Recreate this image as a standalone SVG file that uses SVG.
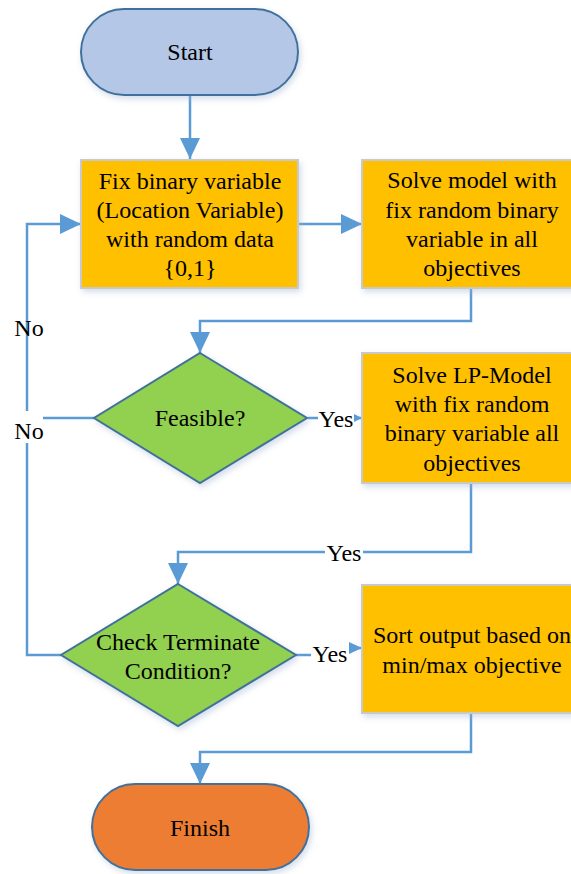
<svg xmlns="http://www.w3.org/2000/svg" width="571" height="874" viewBox="0 0 571 874">
<style>
.t{font-size:24px;fill:#000;text-anchor:middle}
.box{fill:#FFC000;stroke:#C9C9C9;stroke-width:2}
.dia{fill:#92D050;stroke:#41719C;stroke-width:2}
.pill{stroke:#41719C;stroke-width:2}
.c{fill:none;stroke:#5B9BD5;stroke-width:2.5}
.bg{fill:#fff}
</style>
<defs>
<filter id="sh" x="-10%" y="-10%" width="125%" height="130%">
<feDropShadow dx="2" dy="3" stdDeviation="3" flood-color="#9DB3CF" flood-opacity="0.45"/>
</filter>
<marker id="ab" markerUnits="userSpaceOnUse" markerWidth="21" markerHeight="20" refX="21" refY="10" orient="auto">
<path d="M0,0 L21,10 L0,20 z" fill="#5B9BD5"/>
</marker>
<marker id="am" markerUnits="userSpaceOnUse" markerWidth="13" markerHeight="12" refX="13" refY="6" orient="auto">
<path d="M0,0 L13,6 L0,12 z" fill="#5B9BD5"/>
</marker>
<marker id="as" markerUnits="userSpaceOnUse" markerWidth="8" markerHeight="8" refX="8" refY="4" orient="auto">
<path d="M0,0 L8,4 L0,8 z" fill="#5B9BD5"/>
</marker>
</defs>

<g id="connectors">
<path class="c" d="M190,95 V159" marker-end="url(#ab)"/>
<path class="c" d="M298,224 H362" marker-end="url(#ab)"/>
<path class="c" d="M471,288 V321 H200 V353" marker-end="url(#ab)"/>
<path class="c" d="M308,418 H362" marker-end="url(#as)"/>
<path class="c" d="M94,418 H27"/>
<path class="c" d="M471,483 V552 H178 V584" marker-end="url(#ab)"/>
<path class="c" d="M296,655 H330 V648 H362" marker-end="url(#am)"/>
<path class="c" d="M61,655 H27 V224 H81" marker-end="url(#ab)"/>
<path class="c" d="M471,713 V752 H200 V784" marker-end="url(#ab)"/>
</g>

<g font-family="Liberation Serif, Times New Roman, DejaVu Serif, serif">
<g id="labels">
<rect class="bg" x="11" y="411" width="32" height="32"/>
<text class="t" x="29" y="336">No</text>
<text class="t" x="29" y="439">No</text>
<rect class="bg" x="318" y="405" width="36" height="26"/>
<text class="t" x="336" y="427">Yes</text>
<rect class="bg" x="325" y="539" width="38" height="26"/>
<text class="t" x="344" y="561">Yes</text>
<rect class="bg" x="311" y="638" width="38" height="28"/>
<text class="t" x="330" y="662">Yes</text>
</g>

<g id="start">
<rect class="pill" x="81" y="9" width="217" height="86" rx="43" fill="#B4C7E7" filter="url(#sh)"/>
<text class="t" x="190" y="60">Start</text>
</g>

<g id="fix">
<rect class="box" x="81" y="160" width="217" height="128" filter="url(#sh)"/>
<text class="t" x="190" y="189">Fix binary variable</text>
<text class="t" x="190" y="218">(Location Variable)</text>
<text class="t" x="190" y="247">with random data</text>
<text class="t" x="190" y="276">{0,1}</text>
</g>

<g id="solve">
<rect class="box" x="362" y="160" width="220" height="128" filter="url(#sh)"/>
<text class="t" x="472" y="188">Solve model with</text>
<text class="t" x="472" y="218">fix random binary</text>
<text class="t" x="472" y="247">variable in all</text>
<text class="t" x="472" y="276">objectives</text>
</g>

<g id="feasible">
<polygon class="dia" points="200,353 307,418 200,483 94,418" filter="url(#sh)"/>
<text class="t" x="200" y="426">Feasible?</text>
</g>

<g id="solvelp">
<rect class="box" x="362" y="353" width="220" height="130" filter="url(#sh)"/>
<text class="t" x="472" y="383">Solve LP-Model</text>
<text class="t" x="472" y="412">with fix random</text>
<text class="t" x="472" y="441">binary variable all</text>
<text class="t" x="472" y="471">objectives</text>
</g>

<g id="check">
<polygon class="dia" points="178,584 296,655 178,726 61,655" filter="url(#sh)"/>
<text class="t" x="178" y="650">Check Terminate</text>
<text class="t" x="178" y="679">Condition?</text>
</g>

<g id="sort">
<rect class="box" x="362" y="585" width="220" height="128" filter="url(#sh)"/>
<text class="t" x="472" y="643">Sort output based on</text>
<text class="t" x="472" y="673">min/max objective</text>
</g>

<g id="finish">
<rect class="pill" x="92" y="784" width="217" height="86" rx="43" fill="#ED7D31" filter="url(#sh)"/>
<text class="t" x="200" y="836">Finish</text>
</g>
</g>
</svg>
